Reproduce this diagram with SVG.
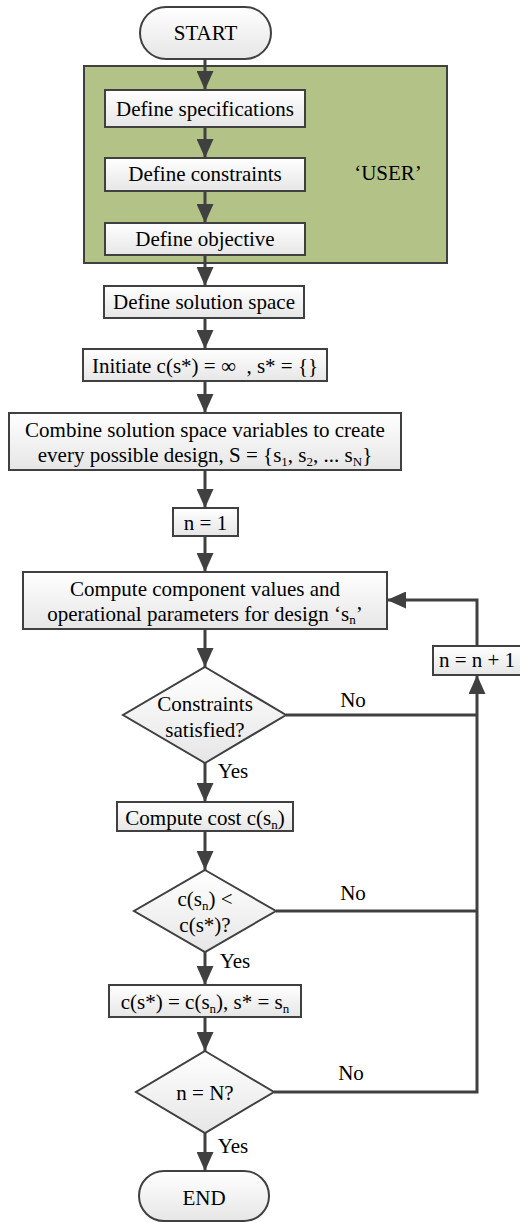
<svg xmlns="http://www.w3.org/2000/svg" width="520" height="1222" viewBox="0 0 520 1222">
<defs>
<linearGradient id="g" x1="0" y1="0" x2="0" y2="1">
<stop offset="0" stop-color="#ffffff"/>
<stop offset="1" stop-color="#e6e6e6"/>
</linearGradient>
<marker id="ah" markerUnits="userSpaceOnUse" markerWidth="19" markerHeight="17" refX="19" refY="8.5" orient="auto">
<path d="M0,0 L19,8.5 L0,17 z" fill="#404040"/>
</marker>
<style>
.b{fill:url(#g);stroke:#404040;stroke-width:2}
.t{font-family:'Liberation Serif',Tinos,'Times New Roman',Times,'Nimbus Roman','Nimbus Roman No9 L',FreeSerif,'DejaVu Serif','Noto Serif',serif;font-size:21px;fill:#000;text-anchor:middle}
.c{fill:none;stroke:#404040;stroke-width:3}
.a{marker-end:url(#ah)}
</style>
</defs>
<rect x="0" y="0" width="520" height="1222" fill="#ffffff"/>
<g id="user-group">
<rect x="84" y="66" width="363" height="197" fill="#b3c388" stroke="#404040" stroke-width="2"/>
<text class="t" x="388" y="180">‘USER’</text>
</g>
<g id="connectors">
<line class="c a" x1="205" y1="59" x2="205" y2="90"/>
<line class="c a" x1="205" y1="127" x2="205" y2="158"/>
<line class="c a" x1="205" y1="191" x2="205" y2="223"/>
<line class="c a" x1="205" y1="255" x2="205" y2="286"/>
<line class="c a" x1="205" y1="318" x2="205" y2="349"/>
<line class="c a" x1="205" y1="381" x2="205" y2="413"/>
<line class="c a" x1="205" y1="470" x2="205" y2="508"/>
<line class="c a" x1="205" y1="536" x2="205" y2="572"/>
<line class="c a" x1="205" y1="629" x2="205" y2="667"/>
<line class="c a" x1="205" y1="763" x2="205" y2="802"/>
<line class="c a" x1="205" y1="831" x2="205" y2="870"/>
<line class="c a" x1="205" y1="952" x2="205" y2="985"/>
<line class="c a" x1="205" y1="1017" x2="205" y2="1051"/>
<line class="c a" x1="205" y1="1133" x2="205" y2="1171"/>
<polyline class="c" points="286,715 477,715"/>
<polyline class="c" points="276,911 477,911"/>
<polyline class="c a" points="274,1092 477,1092 477,675"/>
<polyline class="c a" points="477,646 477,600 387,600"/>
<text class="t" x="353" y="707">No</text>
<text class="t" x="353" y="900">No</text>
<text class="t" x="351" y="1080">No</text>
<text class="t" x="233" y="778">Yes</text>
<text class="t" x="235" y="968">Yes</text>
<text class="t" x="233" y="1153">Yes</text>
</g>
<g id="start">
<rect class="b" x="140" y="7" width="131" height="52" rx="26"/>
<text class="t" x="205.5" y="40">START</text>
</g>
<g id="define-specifications">
<rect class="b" x="105" y="90" width="200" height="37"/>
<text class="t" x="205" y="116">Define specifications</text>
</g>
<g id="define-constraints">
<rect class="b" x="105" y="158" width="200" height="33"/>
<text class="t" x="205" y="181">Define constraints</text>
</g>
<g id="define-objective">
<rect class="b" x="105" y="223" width="200" height="32"/>
<text class="t" x="205" y="246">Define objective</text>
</g>
<g id="define-solution-space">
<rect class="b" x="104" y="286" width="200" height="32"/>
<text class="t" x="204" y="309">Define solution space</text>
</g>
<g id="initiate">
<rect class="b" x="83" y="349" width="244" height="32"/>
<text class="t" x="205" y="373" xml:space="preserve">Initiate c(s*) = ∞  , s* = {}</text>
</g>
<g id="combine">
<rect class="b" x="9" y="413" width="392" height="57"/>
<text class="t" x="205" y="437">Combine solution space variables to create</text>
<text class="t" x="205" y="462">every possible design, S = {s<tspan font-size="13" dy="4">1</tspan><tspan dy="-4">, s</tspan><tspan font-size="13" dy="4">2</tspan><tspan dy="-4">, ... s</tspan><tspan font-size="13" dy="4">N</tspan><tspan dy="-4">}</tspan></text>
</g>
<g id="n-init">
<rect class="b" x="173" y="508" width="65" height="28"/>
<text class="t" x="205.5" y="530">n = 1</text>
</g>
<g id="compute-component">
<rect class="b" x="23" y="572" width="364" height="57"/>
<text class="t" x="205" y="596">Compute component values and</text>
<text class="t" x="205" y="621">operational parameters for design ‘s<tspan font-size="13" dy="3">n</tspan><tspan dy="-3">’</tspan></text>
</g>
<g id="n-increment">
<rect class="b" x="433" y="646" width="90" height="29"/>
<text class="t" x="477" y="667">n = n + 1</text>
</g>
<g id="constraints-satisfied">
<polygon class="b" points="205,667 286,715 205,763 123,715"/>
<text class="t" x="205" y="711">Constraints</text>
<text class="t" x="205" y="737">satisfied?</text>
</g>
<g id="compute-cost">
<rect class="b" x="117" y="802" width="176" height="29"/>
<text class="t" x="205" y="825">Compute cost c(s<tspan font-size="13" dy="4">n</tspan><tspan dy="-4">)</tspan></text>
</g>
<g id="cost-compare">
<polygon class="b" points="205,870 276,911 205,952 134,911"/>
<text class="t" x="205" y="906">c(s<tspan font-size="13" dy="4">n</tspan><tspan dy="-4">) &lt;</tspan></text>
<text class="t" x="205" y="932">c(s*)?</text>
</g>
<g id="update-best">
<rect class="b" x="109" y="985" width="192" height="32"/>
<text class="t" x="205" y="1009">c(s*) = c(s<tspan font-size="13" dy="4">n</tspan><tspan dy="-4">), s* = s</tspan><tspan font-size="13" dy="4">n</tspan></text>
</g>
<g id="n-equals-N">
<polygon class="b" points="205,1051 274,1092 205,1133 136,1092"/>
<text class="t" x="205" y="1100">n = N?</text>
</g>
<g id="end">
<rect class="b" x="139" y="1171" width="130" height="50" rx="25"/>
<text class="t" x="204" y="1205">END</text>
</g>
</svg>
